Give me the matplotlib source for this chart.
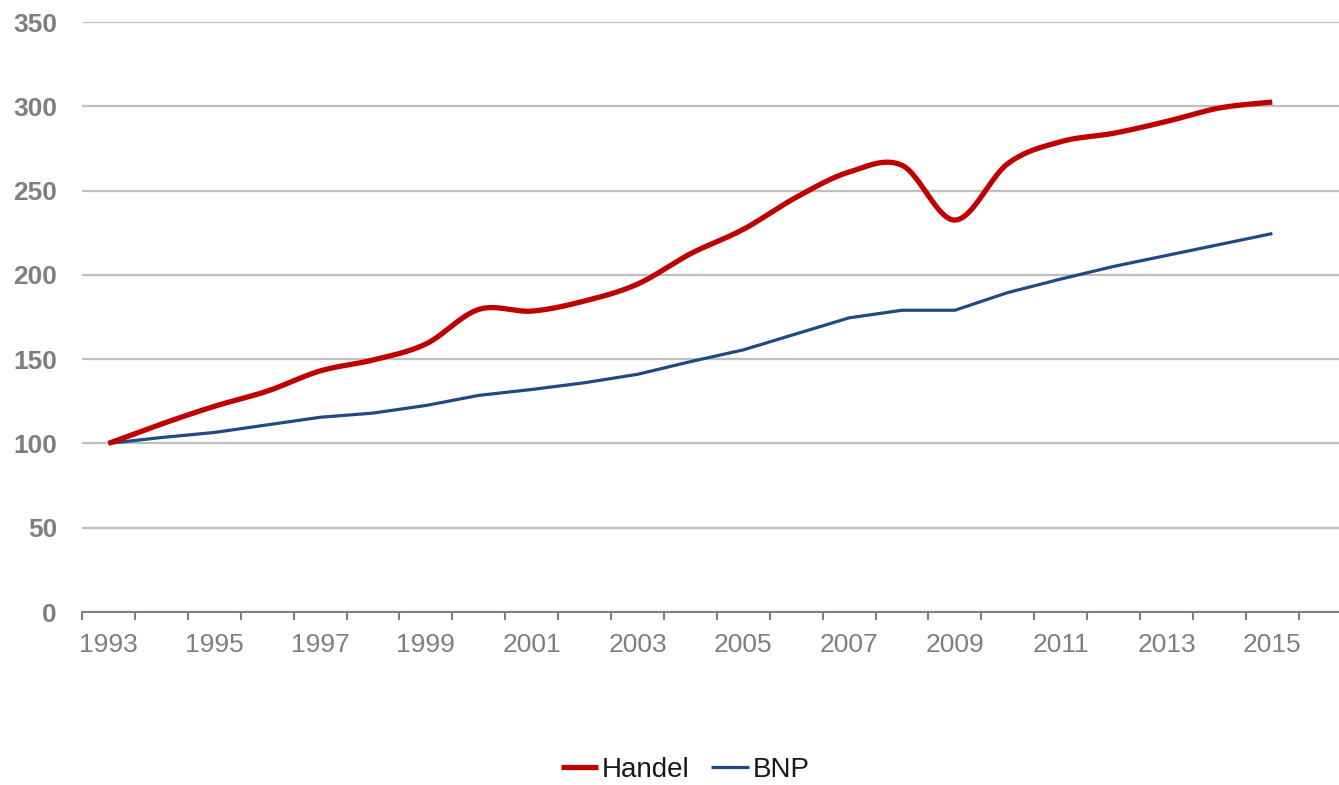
import numpy as np
import matplotlib
matplotlib.use('Agg')
import matplotlib.pyplot as plt

plt.rcParams['font.family'] = ['Liberation Sans', 'DejaVu Sans']

years = list(range(1993, 2016))
handel = [100, 111.5, 122, 131, 143, 149.5, 159, 179.5, 178.5, 184.5, 194.5,
          212.5, 227, 246, 261, 265, 232.5, 266, 279, 284, 291, 299, 302.5]
bnp = [100, 103.5, 106.5, 111, 115.5, 118, 122.5, 128.5, 132, 136, 141,
       148.5, 155.5, 165, 174.5, 179, 179, 189.5, 197.5, 205, 211.5, 218, 224.5]
yticks = [0, 50, 100, 150, 200, 250, 300, 350]


def smooth(xs, ys, n=30):
    # Catmull-Rom through the points, like a spreadsheet's "smoothed line"
    xs = np.asarray(xs, float)
    ys = np.asarray(ys, float)
    px = np.concatenate([[xs[0]], xs, [xs[-1]]])
    py = np.concatenate([[ys[0]], ys, [ys[-1]]])
    outx, outy = [], []
    t = np.linspace(0, 1, n, endpoint=False)
    for i in range(1, len(px) - 2):
        x0, x1, x2, x3 = px[i - 1:i + 3]
        y0, y1, y2, y3 = py[i - 1:i + 3]
        c1x, c1y = x1 + (x2 - x0) / 6, y1 + (y2 - y0) / 6
        c2x, c2y = x2 - (x3 - x1) / 6, y2 - (y3 - y1) / 6
        b0 = (1 - t) ** 3
        b1 = 3 * (1 - t) ** 2 * t
        b2 = 3 * (1 - t) * t ** 2
        b3 = t ** 3
        outx.extend(b0 * x1 + b1 * c1x + b2 * c2x + b3 * x2)
        outy.extend(b0 * y1 + b1 * c1y + b2 * c2y + b3 * y2)
    outx.append(xs[-1])
    outy.append(ys[-1])
    return np.array(outx), np.array(outy)


fig = plt.figure(figsize=(13.39, 7.85), dpi=100)
ax = fig.add_axes([82 / 1339, 173 / 785, 1257 / 1339, 590 / 785])

idx = np.arange(len(years))
hx, hy = smooth(idx, handel)
ax.plot(hx, hy, color='#C00000', lw=3.8, label='Handel', solid_capstyle='butt', zorder=4)
ax.plot(idx, bnp, color='#1F4A84', lw=2.3, label='BNP', solid_capstyle='butt', zorder=3)

ax.set_ylim(0, 350)
ax.set_xlim(-0.5, 23.26)
ax.set_yticks(yticks)
ax.set_yticklabels([str(v) for v in yticks], fontsize=19, fontweight='bold', color='#7F7F7F')
ax.set_xticks(idx[::2])
ax.set_xticklabels([str(y) for y in years[::2]], fontsize=19, color='#7F7F7F')
ax.set_xticks(np.arange(-0.5, 23, 1), minor=True)
ax.tick_params(axis='x', which='major', length=0, pad=15)
ax.tick_params(axis='x', which='minor', length=5.5, width=1.5, color='#808080')
ax.tick_params(axis='y', length=0, pad=18)

ax.grid(axis='y', color='#BFBFBF', lw=1.6)
ax.set_axisbelow(True)
for side in ['top', 'right', 'left']:
    ax.spines[side].set_visible(False)
ax.spines['bottom'].set_color('#808080')
ax.spines['bottom'].set_linewidth(1.5)

fig.legend(loc='center', bbox_to_anchor=(685 / 1339, 1 - 770 / 785), ncol=2,
           frameon=False, fontsize=20, handlelength=1.35, handletextpad=0.12,
           columnspacing=0.8, labelcolor='#1A1A1A')

plt.savefig('out.png', dpi=100)
